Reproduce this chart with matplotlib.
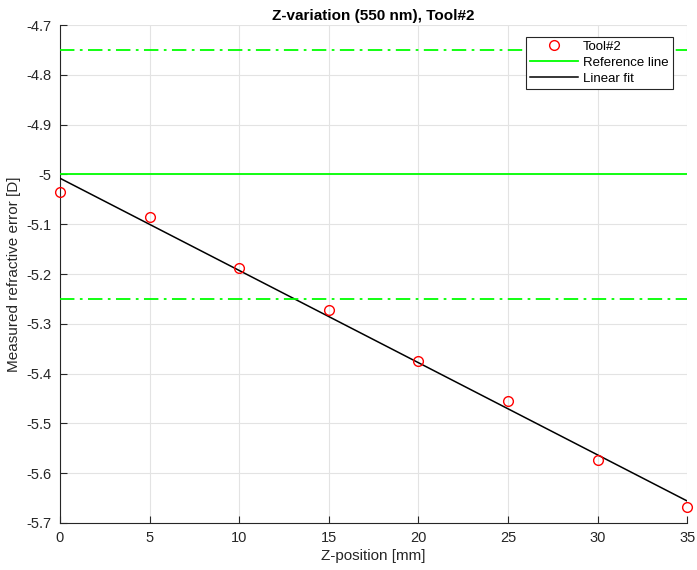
import numpy as np
import matplotlib
matplotlib.use('Agg')
import matplotlib.pyplot as plt

plt.rcParams['font.family'] = ['Liberation Sans', 'DejaVu Sans']

z_pos = [0, 5, 10, 15, 20, 25, 30, 35]
refr_err = [-5.035, -5.086, -5.187, -5.273, -5.375, -5.456, -5.574, -5.668]
ref_value = -5.0
tolerance = 0.25

fig = plt.figure(figsize=(6.97, 5.7), dpi=100)
ax = fig.add_axes([0.086, 0.0825, 0.9, 0.8735])

# linear fit
p = np.polyfit(z_pos, refr_err, 1)
xfit = np.array([min(z_pos), max(z_pos)])

ax.plot(z_pos, refr_err, 'o', mfc='none', mec='red', ms=7, mew=1.0, label='Tool#2',
        zorder=4, clip_on=False)
ax.axhline(ref_value, color=(0, 1, 0), lw=1.3, label='Reference line', zorder=3)
ax.plot(xfit, np.polyval(p, xfit), color='black', lw=1.1, label='Linear fit', zorder=3)
ax.axhline(ref_value + tolerance, color=(0, 1, 0), lw=1.3, ls=(0, (8, 3, 1.5, 3)), zorder=3)
ax.axhline(ref_value - tolerance, color=(0, 1, 0), lw=1.3, ls=(0, (8, 3, 1.5, 3)), zorder=3)

ax.set_xlim(0, 35)
ax.set_ylim(-5.7, -4.7)
ax.set_xticks(np.arange(0, 36, 5))
ax.set_yticks(np.arange(-5.7, -4.65, 0.1))
ax.set_yticklabels(['%g' % round(v, 1) for v in np.arange(-5.7, -4.65, 0.1)])
ax.grid(True, color='#e3e3e3', lw=0.8)
ax.set_axisbelow(True)
for s in ['top', 'right']:
    ax.spines[s].set_visible(False)
for s in ['left', 'bottom']:
    ax.spines[s].set_color('#262626')
    ax.spines[s].set_linewidth(0.8)
ax.tick_params(direction='in', length=5, width=0.8, colors='#262626', labelsize=10.5, pad=6)

ax.set_title('Z-variation (550 nm), Tool#2', fontsize=11, fontweight='bold', pad=4)
ax.set_xlabel('Z-position [mm]', fontsize=11, color='#262626', labelpad=3)
ax.set_ylabel('Measured refractive error [D]', fontsize=11, color='#262626', labelpad=4)

leg = ax.legend(loc='upper right', bbox_to_anchor=(0.983, 0.985), fontsize=9.5, fancybox=False,
                framealpha=1, edgecolor='#262626', borderpad=0.3, labelspacing=0.3,
                handlelength=3.6, handletextpad=0.4, borderaxespad=0.3)
leg.get_frame().set_linewidth(0.8)

fig.savefig('out.png', dpi=100)
